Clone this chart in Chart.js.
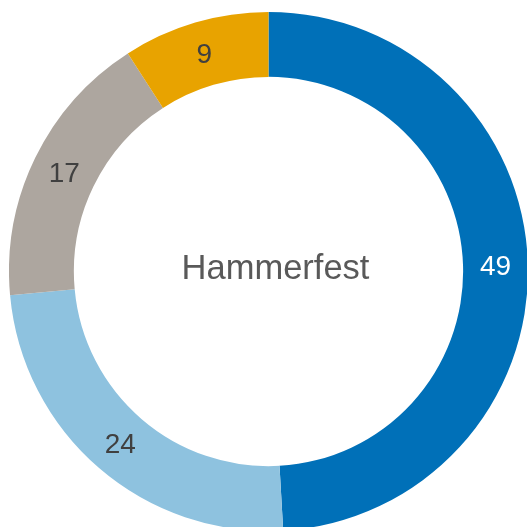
<!DOCTYPE html>
<html>
<head>
<meta charset="utf-8">
<script src="https://cdn.jsdelivr.net/npm/chart.js@4.4.1/dist/chart.umd.min.js"></script>
<style>
  html, body { margin: 0; padding: 0; background: #fff; overflow: hidden; width: 527px; height: 527px; }
  #wrap { position: absolute; left: 8.5px; top: 12px; width: 519px; height: 519px; }
</style>
</head>
<body>
<div id="wrap"><canvas id="grafico" width="519" height="519"></canvas></div>
<script>
// datos del gráfico (la etiqueta muestra el valor redondeado)
const categorias = ["Serie 1", "Serie 2", "Serie 3", "Serie 4"];
const valores = [49, 24.4, 17.3, 9.1];
const colores = ["#0070b8", "#8ec2df", "#ada69f", "#e8a300"];
const coloresEtiqueta = ["#ffffff", "#404040", "#404040", "#404040"];
const tituloCentro = "Hammerfest";

const etiquetasPlugin = {
    id: "etiquetas",
    afterDatasetsDraw(chart) {
        const ctx = chart.ctx;
        const meta = chart.getDatasetMeta(0);
        ctx.save();
        ctx.font = "28px 'Liberation Sans', Arial, sans-serif";
        ctx.textAlign = "center";
        ctx.textBaseline = "middle";
        meta.data.forEach((arc, i) => {
            const p = arc.tooltipPosition();
            ctx.fillStyle = coloresEtiqueta[i];
            ctx.fillText(String(Math.round(valores[i])), p.x, p.y + 2);
        });
        const c = meta.data[0];
        ctx.font = "34.5px 'Liberation Sans', Arial, sans-serif";
        ctx.fillStyle = "#595959";
        ctx.fillText(tituloCentro, c.x + 7, c.y - 2);
        ctx.restore();
    }
};

new Chart(document.getElementById("grafico").getContext("2d"), {
    type: "doughnut",
    data: {
        labels: categorias,
        datasets: [{
            data: valores,
            backgroundColor: colores,
            borderWidth: 0,
            hoverOffset: 0
        }]
    },
    options: {
        responsive: false,
        animation: false,
        cutout: "75%",
        layout: { padding: 0 },
        plugins: {
            legend: { display: false },
            tooltip: { enabled: false }
        }
    },
    plugins: [etiquetasPlugin]
});
</script>
</body>
</html>
